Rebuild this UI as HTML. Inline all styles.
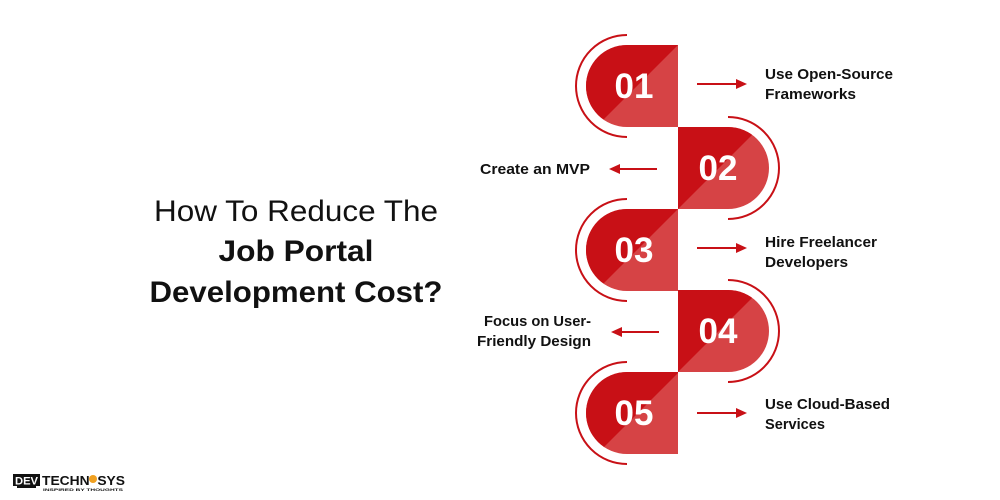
<!DOCTYPE html>
<html><head><meta charset="utf-8"><style>
html,body{margin:0;padding:0;background:#fff;}
svg{display:block;}
text{font-family:"Liberation Sans",sans-serif;}
</style></head><body>
<svg width="1000" height="500" viewBox="0 0 1000 500" xmlns="http://www.w3.org/2000/svg">
<defs>
<clipPath id="c1"><polygon points="-2000,-2000 2723,-2000 -2000,2723"/></clipPath>
<clipPath id="c2"><polygon points="-2000,-2000 2887,-2000 -2000,2887"/></clipPath>
<clipPath id="c3"><polygon points="-2000,-2000 2887,-2000 -2000,2887"/></clipPath>
<clipPath id="c4"><polygon points="-2000,-2000 3050,-2000 -2000,3050"/></clipPath>
<clipPath id="c5"><polygon points="-2000,-2000 3051,-2000 -2000,3051"/></clipPath>
</defs>
<!-- title -->
<text x="296" y="221" font-size="30" text-anchor="middle" fill="#111" textLength="284" lengthAdjust="spacingAndGlyphs">How To Reduce The</text>
<text x="296" y="261" font-size="30" font-weight="bold" text-anchor="middle" fill="#111" textLength="155" lengthAdjust="spacingAndGlyphs">Job Portal</text>
<text x="296" y="302" font-size="30" font-weight="bold" text-anchor="middle" fill="#111" textLength="293" lengthAdjust="spacingAndGlyphs">Development Cost?</text>

<!-- 01 -->
<path d="M678,45 H627 A41,41 0 1 0 627,127 H678 Z" fill="#d64345"/>
<path d="M678,45 H627 A41,41 0 1 0 627,127 H678 Z" fill="#c81016" clip-path="url(#c1)"/>
<path d="M627,35 A51,51 0 0 0 627,137" fill="none" stroke="#c81016" stroke-width="2"/>
<text x="634" y="98" font-size="35" font-weight="bold" fill="#fff" text-anchor="middle">01</text>
<!-- 02 -->
<path d="M678,127 H728 A41,41 0 1 1 728,209 H678 Z" fill="#d64345"/>
<path d="M678,127 H728 A41,41 0 1 1 728,209 H678 Z" fill="#c81016" clip-path="url(#c2)"/>
<path d="M728,117 A51,51 0 0 1 728,219" fill="none" stroke="#c81016" stroke-width="2"/>
<text x="718" y="180" font-size="35" font-weight="bold" fill="#fff" text-anchor="middle">02</text>
<!-- 03 -->
<path d="M678,209 H627 A41,41 0 1 0 627,291 H678 Z" fill="#d64345"/>
<path d="M678,209 H627 A41,41 0 1 0 627,291 H678 Z" fill="#c81016" clip-path="url(#c3)"/>
<path d="M627,199 A51,51 0 0 0 627,301" fill="none" stroke="#c81016" stroke-width="2"/>
<text x="634" y="262" font-size="35" font-weight="bold" fill="#fff" text-anchor="middle">03</text>
<!-- 04 -->
<path d="M678,290 H728 A41,41 0 1 1 728,372 H678 Z" fill="#d64345"/>
<path d="M678,290 H728 A41,41 0 1 1 728,372 H678 Z" fill="#c81016" clip-path="url(#c4)"/>
<path d="M728,280 A51,51 0 0 1 728,382" fill="none" stroke="#c81016" stroke-width="2"/>
<text x="718" y="343" font-size="35" font-weight="bold" fill="#fff" text-anchor="middle">04</text>
<!-- 05 -->
<path d="M678,372 H627 A41,41 0 1 0 627,454 H678 Z" fill="#d64345"/>
<path d="M678,372 H627 A41,41 0 1 0 627,454 H678 Z" fill="#c81016" clip-path="url(#c5)"/>
<path d="M627,362 A51,51 0 0 0 627,464" fill="none" stroke="#c81016" stroke-width="2"/>
<text x="634" y="425" font-size="35" font-weight="bold" fill="#fff" text-anchor="middle">05</text>

<!-- arrows -->
<g stroke="#c81016" stroke-width="2" fill="#c81016">
<line x1="697" y1="84" x2="740" y2="84"/><polygon points="747,84 736,79 736,89" stroke="none"/>
<line x1="697" y1="248" x2="740" y2="248"/><polygon points="747,248 736,243 736,253" stroke="none"/>
<line x1="697" y1="413" x2="740" y2="413"/><polygon points="747,413 736,408 736,418" stroke="none"/>
<line x1="657" y1="169" x2="616" y2="169"/><polygon points="609,169 620,164 620,174" stroke="none"/>
<line x1="659" y1="332" x2="618" y2="332"/><polygon points="611,332 622,327 622,337" stroke="none"/>
</g>

<!-- labels -->
<g font-size="15" font-weight="bold" fill="#111">
<text x="765" y="79" textLength="128" lengthAdjust="spacingAndGlyphs">Use Open-Source</text>
<text x="765" y="99" textLength="91" lengthAdjust="spacingAndGlyphs">Frameworks</text>
<text x="765" y="247" textLength="112" lengthAdjust="spacingAndGlyphs">Hire Freelancer</text>
<text x="765" y="267" textLength="83" lengthAdjust="spacingAndGlyphs">Developers</text>
<text x="765" y="409" textLength="125" lengthAdjust="spacingAndGlyphs">Use Cloud-Based</text>
<text x="765" y="429" textLength="60" lengthAdjust="spacingAndGlyphs">Services</text>
<text x="480" y="174" textLength="110" lengthAdjust="spacingAndGlyphs">Create an MVP</text>
<text x="484" y="326" textLength="107" lengthAdjust="spacingAndGlyphs">Focus on User-</text>
<text x="477" y="346" textLength="114" lengthAdjust="spacingAndGlyphs">Friendly Design</text>
</g>

<!-- logo -->
<rect x="13" y="474" width="27" height="12" fill="#111"/>
<rect x="17" y="486" width="19" height="2" fill="#111"/>
<text x="15" y="484.5" font-size="11" font-weight="bold" fill="#fff" textLength="23" lengthAdjust="spacingAndGlyphs">DEV</text>
<text x="42" y="485" font-size="13" font-weight="bold" fill="#111" textLength="83" lengthAdjust="spacingAndGlyphs">TECHN&#160;&#160;SYS</text>
<circle cx="93" cy="479" r="4" fill="#f0a020"/>
<text x="43" y="491" font-size="4" font-weight="bold" fill="#111" textLength="80" lengthAdjust="spacingAndGlyphs">INSPIRED BY THOUGHTS</text>
</svg>
</body></html>
